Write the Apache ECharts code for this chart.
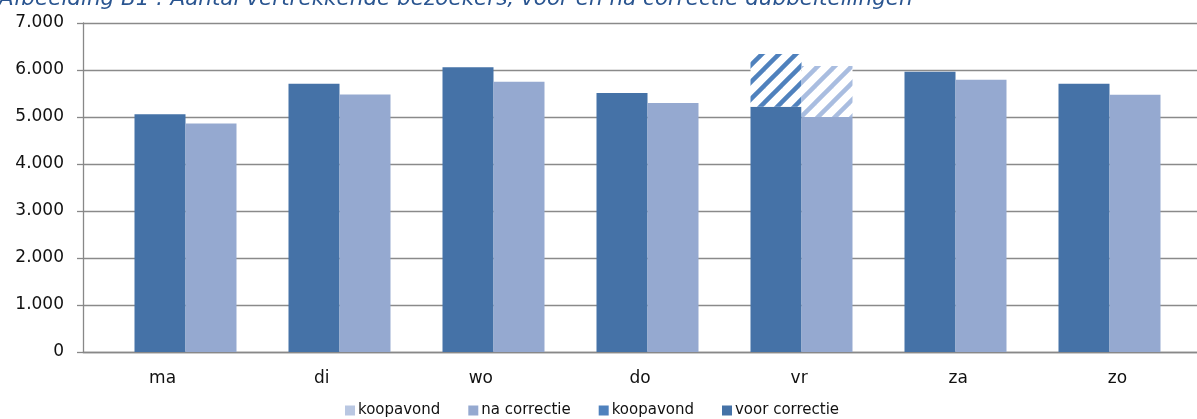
<!DOCTYPE html>
<html><head><meta charset="utf-8">
<script src="https://cdn.jsdelivr.net/npm/echarts@6/dist/echarts.min.js"></script>
<style>html,body{margin:0;padding:0;background:#fff}#c{width:1197px;height:419px}</style>
</head><body><div id="c"></div>
<script>
const titleText = 'Afbeelding B1 : Aantal vertrekkende bezoekers, voor en na correctie dubbeltellingen';
const categories = ['ma','di','wo','do','vr','za','zo'];
const voorCorrectie = [5060, 5710, 6060, 5510, 5220, 5965, 5710];
const naCorrectie   = [4860, 5480, 5750, 5300, 5000, 5790, 5475];
const koopavondVoor = ['-', '-', '-', '-', 1120, '-', '-'];
const koopavondNa   = ['-', '-', '-', '-', 1085, '-', '-'];
const yTicks = [0, 1000, 2000, 3000, 4000, 5000, 6000, 7000];

function stripe(color){
  const c = document.createElement('canvas');
  const s = 17; c.width = s; c.height = s;
  const g = c.getContext('2d');
  g.fillStyle = '#fff'; g.fillRect(0,0,s,s);
  g.strokeStyle = color; g.lineWidth = 4.5; g.lineCap = 'square';
  for (let k = -2; k <= 2; k++) {
    g.beginPath(); g.moveTo(k*s - s, 2*s); g.lineTo(k*s + 2*s, -s); g.stroke();
  }
  return {image: c, repeat: 'repeat'};
}

const font = 'DejaVu Sans';
const chart = echarts.init(document.getElementById('c'), null, {renderer:'canvas'});
chart.setOption({
  animation: false,
  graphic: [{type:'text', left: -1, top: -12, style:{text: titleText, font: 'italic 21.5px "DejaVu Sans"', fill:'#2a5590'}}],
  legend: {
    bottom: -4, left: 340, itemWidth: 10, itemHeight: 10, itemGap: 28,
    icon: 'rect',
    textStyle: {fontFamily: font, fontSize: 15, color: '#111', padding:[0,0,0,-2]},
    data: [
      {name:'koopavond\u200b', itemStyle:{color:'#b9c7e2'}},
      {name:'na correctie', itemStyle:{color:'#95a9d0'}},
      {name:'koopavond', itemStyle:{color:'#4f81bd'}},
      {name:'voor correctie', itemStyle:{color:'#4572a7'}}
    ]
  },
  grid: [
    {left: 83, top: 23, bottom: 67, width: 1126},
    {left: 108.5, top: 23, bottom: 67, width: 1078}
  ],
  xAxis: [
    {type:'category', gridIndex:0, data: categories,
     axisLine:{lineStyle:{color:'#888', width:1.3}},
     axisTick:{length:5, lineStyle:{color:'#888', width:1.3}},
     axisLabel:{fontFamily: font, fontSize: 17, color:'#111', margin: 18}},
    {type:'category', gridIndex:1, data: categories, show:false}
  ],
  yAxis: [
    {type:'value', gridIndex:0, min: yTicks[0], max: yTicks[yTicks.length-1], interval: 1000,
     axisLine:{show:true, lineStyle:{color:'#888', width:1.3}},
     axisTick:{show:true, length:6, lineStyle:{color:'#888', width:1.3}},
     splitLine:{lineStyle:{color:'#8a8a8a', width:1.3}},
     axisLabel:{fontFamily: font, fontSize: 17, color:'#111', margin: 19,
       formatter: v => v === 0 ? '0' : (v/1000).toFixed(3)}},
    {type:'value', gridIndex:1, min: yTicks[0], max: yTicks[yTicks.length-1], show:false}
  ],
  series: [
    {name:'voor correctie', type:'bar', xAxisIndex:1, yAxisIndex:1, stack:'a', data: voorCorrectie,
     barWidth: 51, barGap: '0%', itemStyle:{color:'#4572a7'}},
    {name:'koopavond', type:'bar', xAxisIndex:1, yAxisIndex:1, stack:'a', data: koopavondVoor,
     barWidth: 51, barGap: '0%', itemStyle:{color: stripe('#4f81bd')}},
    {name:'na correctie', type:'bar', xAxisIndex:1, yAxisIndex:1, stack:'b', data: naCorrectie,
     barWidth: 51, barGap: '0%', itemStyle:{color:'#95a9d0'}},
    {name:'koopavond\u200b', type:'bar', xAxisIndex:1, yAxisIndex:1, stack:'b', data: koopavondNa,
     barWidth: 51, barGap: '0%', itemStyle:{color: stripe('#a9bde0')}}
  ]
});
</script></body></html>
